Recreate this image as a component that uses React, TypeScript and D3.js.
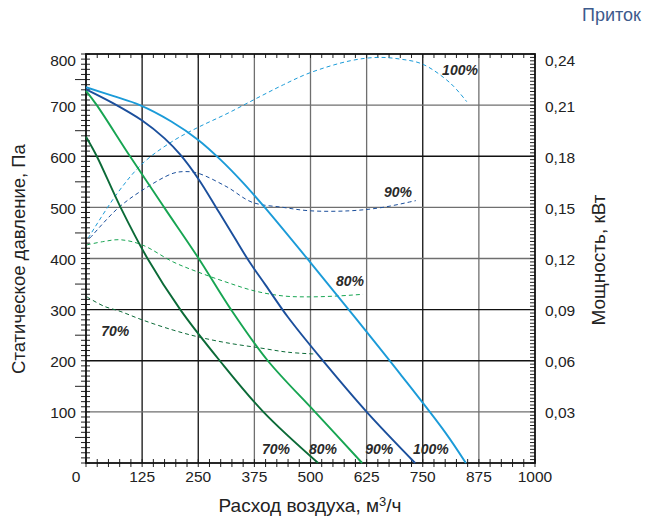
import React from "react";
import * as d3 from "d3";

// ---- Data ----
const xTicks = [0, 125, 250, 375, 500, 625, 750, 875, 1000];
const yTicks = [100, 200, 300, 400, 500, 600, 700, 800];
const pTicks = [0.03, 0.06, 0.09, 0.12, 0.15, 0.18, 0.21, 0.24];

// Pressure curves [airflow m3/h, pressure Pa]
const pressure100: [number, number][] = [[0,735],[60,718],[120,700],[190,668],[250,632],[300,593],[350,548],[400,498],[500,392],[600,284],[700,174],[800,60],[846,0]];
const pressure90: [number, number][] = [[0,731],[60,704],[125,670],[175,635],[210,603],[250,556],[291,498],[330,442],[365,392],[400,348],[450,285],[523,205],[625,100],[733,0]];
const pressure80: [number, number][] = [[0,728],[24,700],[98,600],[174,500],[251,400],[323,300],[405,200],[510,100],[615,0]];
const pressure70: [number, number][] = [[0,638],[24,600],[77,500],[137,400],[210,300],[298,200],[395,100],[517,0]];

// Power curves [airflow m3/h, power kW]
const power100: [number, number][] = [[5,0.132],[69,0.158],[127,0.176],[194,0.189],[250,0.197],[314,0.205],[380,0.214],[440,0.222],[499,0.229],[588,0.236],[650,0.238],[700,0.237],[750,0.234],[811,0.223],[848,0.212]];
const power90: [number, number][] = [[9,0.132],[69,0.149],[125,0.16],[194,0.17],[222,0.171],[250,0.17],[314,0.162],[370,0.153],[439,0.15],[499,0.148],[588,0.148],[661,0.15],[735,0.154]];
const power80: [number, number][] = [[2,0.128],[40,0.13],[76,0.131],[125,0.128],[194,0.118],[250,0.112],[314,0.106],[375,0.101],[440,0.098],[499,0.0975],[560,0.098],[617,0.099]];
const power70: [number, number][] = [[2,0.0975],[40,0.092],[76,0.089],[125,0.084],[194,0.078],[250,0.074],[314,0.0705],[388,0.0675],[450,0.065],[506,0.064]];

const seriesColors = ["#1b9bd8", "#1b4f9c", "#17a552", "#0b6a37"];
const seriesNames = ["100%", "90%", "80%", "70%"];

// Curve labels [airflow, pressure]
const powerLabelPos: [number, number][] = [[833, 769], [695, 530], [588, 356], [65, 258]];
const pressureLabelPos: [number, number][] = [[768, 28], [653, 28], [528, 28], [423, 28]];

// grid line darkness (true = black)
const vGridDark = [true, true, false, false, false, true, false];
const hGridDark = [false, true, true, false, false, true, false]; // 100..700

export default function App() {
  const x = d3.scaleLinear().domain([0, 1000]).range([86, 535]);
  const y = d3.scaleLinear().domain([0, 800]).range([463, 54]);
  const yp = d3.scaleLinear().domain([0, 0.24]).range([463, 54]);

  const solid = d3.line<[number, number]>().x(d => x(d[0])).y(d => y(d[1])).curve(d3.curveCatmullRom.alpha(0.5));
  const dashed = d3.line<[number, number]>().x(d => x(d[0])).y(d => yp(d[1])).curve(d3.curveCatmullRom.alpha(0.5));

  const pressures = [pressure100, pressure90, pressure80, pressure70];
  const powers = [power100, power90, power80, power70];

  const font = "'Liberation Sans', Arial, sans-serif";
  const x0 = x(0), x1 = x(1000), y0 = y(0), y1 = y(800);

  const minorX = d3.range(0, 1001, 25);
  const minorY = d3.range(0, 801, 10);
  const minorP = d3.range(0, 0.2401, 0.002);

  return (
    <svg width={645} height={525} style={{ position: "absolute", left: 0, top: 0, background: "#fff" }} fontFamily={font}>
      <text x={641} y={21} textAnchor="end" fontSize={18} fill="#3d5a8c">Приток</text>

      {/* grid */}
      {xTicks.slice(1, -1).map((t, i) => (
        <line key={"vg" + t} x1={x(t)} x2={x(t)} y1={y0} y2={y1} stroke={vGridDark[i] ? "#111" : "#6f6f6f"} strokeWidth={1.3} />
      ))}
      {yTicks.slice(0, -1).map((t, i) => (
        <line key={"hg" + t} x1={x0} x2={x1} y1={y(t)} y2={y(t)} stroke={hGridDark[i] ? "#111" : "#6f6f6f"} strokeWidth={1.3} />
      ))}

      {/* minor ticks */}
      {minorX.map(t => (
        <g key={"mx" + t}>
          <line x1={x(t)} x2={x(t)} y1={y0 - 4} y2={y0 + 4} stroke="#222" strokeWidth={1} />
          <line x1={x(t)} x2={x(t)} y1={y1} y2={y1 + 4} stroke="#222" strokeWidth={1} />
        </g>
      ))}
      {minorY.map(t => (
        <line key={"my" + t} x1={x0 - (t % 100 === 50 ? 11 : 5)} x2={x0 + 4} y1={y(t)} y2={y(t)} stroke="#222" strokeWidth={1} />
      ))}
      {minorP.map((t, i) => (
        <line key={"mp" + i} x1={x1 - 5} x2={x1} y1={yp(t)} y2={yp(t)} stroke="#222" strokeWidth={1} />
      ))}

      {/* frame */}
      <rect x={x0} y={y1} width={x1 - x0} height={y0 - y1} fill="none" stroke="#111" strokeWidth={1.8} />

      {/* power curves (dashed) */}
      {powers.map((d, i) => (
        <path key={"pw" + i} d={dashed(d) || ""} fill="none" stroke={seriesColors[i]} strokeWidth={1} strokeDasharray="4 3" />
      ))}
      {/* pressure curves */}
      {pressures.map((d, i) => (
        <path key={"pr" + i} d={solid(d) || ""} fill="none" stroke={seriesColors[i]} strokeWidth={1.9} />
      ))}

      {/* curve labels */}
      {powerLabelPos.map((p, i) => (
        <text key={"pl" + i} x={x(p[0])} y={y(p[1])} dy="0.35em" textAnchor="middle" fontSize={14} fontWeight="bold" fontStyle="italic" fill="#2a2a2a">{seriesNames[i]}</text>
      ))}
      {pressureLabelPos.map((p, i) => (
        <text key={"ql" + i} x={x(p[0])} y={y(p[1])} dy="0.35em" textAnchor="middle" fontSize={14} fontWeight="bold" fontStyle="italic" fill="#2a2a2a">{seriesNames[i]}</text>
      ))}

      {/* axis labels */}
      {xTicks.map(t => (
        <text key={"xl" + t} x={t === 0 ? x(t) - 10 : x(t)} y={482} textAnchor="middle" fontSize={15.5} fill="#222">{t}</text>
      ))}
      {yTicks.map(t => (
        <text key={"yl" + t} x={76} y={y(t) + (t === 800 ? 7 : 1)} dy="0.35em" textAnchor="end" fontSize={15.5} fill="#222">{t}</text>
      ))}
      {pTicks.map(t => (
        <text key={"pl" + t} x={545} y={yp(t) + (t > 0.23 ? 7 : 1)} dy="0.35em" textAnchor="start" fontSize={15.5} fill="#222">{d3.format(".2f")(t).replace(".", ",")}</text>
      ))}

      <text x={310} y={512} textAnchor="middle" fontSize={19} fill="#222">
        Расход воздуха, м<tspan dy={-6} fontSize={13}>3</tspan><tspan dy={6}>/ч</tspan>
      </text>
      <text transform={`translate(25,259) rotate(-90)`} textAnchor="middle" fontSize={18.5} fill="#222">Статическое давление, Па</text>
      <text transform={`translate(605,260) rotate(-90)`} textAnchor="middle" fontSize={19} fill="#222">Мощность, кВт</text>
    </svg>
  );
}
